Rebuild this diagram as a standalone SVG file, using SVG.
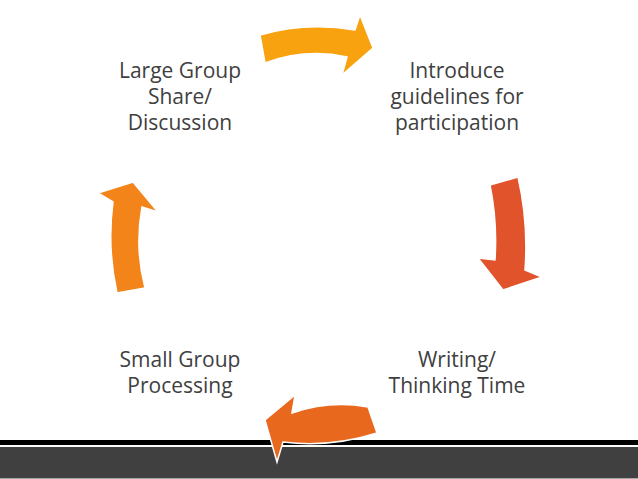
<svg xmlns="http://www.w3.org/2000/svg" width="638" height="479" viewBox="0 0 638 479">
<style>
.lbl{font-family:"Open Sans","Liberation Sans",sans-serif;font-size:21px;fill:#404040;text-anchor:middle}
.arr{stroke:#ffffff;stroke-width:1.5;stroke-linejoin:miter}
</style>
<rect width="638" height="479" fill="#ffffff"/>
<g id="footer">
<rect x="0" y="440" width="638" height="5" fill="#000000"/>
<rect x="0" y="447" width="638" height="31" fill="#404040"/>
<rect x="0" y="478" width="638" height="1" fill="#a6a6a6"/>
</g>
<g id="connectors">
<path class="arr" fill="#F7A20E" d="M260,35 Q306,21.5 355,30 L360,15 L373,48 L342,75 L347,57 Q306,48 265,63 Z"/>
<path class="arr" fill="#E1532B" d="M490,185 L518,177 Q528.5,222 525,270 L542,277 L503,290 L478,258 L495,260 Q497.5,222 490,185 Z"/>
<path class="arr" fill="#E8691E" d="M368,407 L377,433 Q330,448 283,442 L277,462 L265,420 L295,395 L292,413 Q330,400 368,407 Z"/>
<path class="arr" fill="#F2841A" d="M117,293 L145,288 Q134.5,248 142,207 L158,212 L133,182 L98,193 L113,202 Q107,248 117,293 Z"/>
</g>
<g id="node-large-group">
<text class="lbl" x="180" y="78">Large Group</text>
<text class="lbl" x="180" y="104">Share/</text>
<text class="lbl" x="180" y="130">Discussion</text>
</g>
<g id="node-introduce">
<text class="lbl" x="457" y="78">Introduce</text>
<text class="lbl" x="457" y="104">guidelines for</text>
<text class="lbl" x="457" y="130">participation</text>
</g>
<g id="node-writing">
<text class="lbl" x="457" y="367">Writing/</text>
<text class="lbl" x="457" y="393">Thinking Time</text>
</g>
<g id="node-small-group">
<text class="lbl" x="180" y="367">Small Group</text>
<text class="lbl" x="180" y="393">Processing</text>
</g>
</svg>
